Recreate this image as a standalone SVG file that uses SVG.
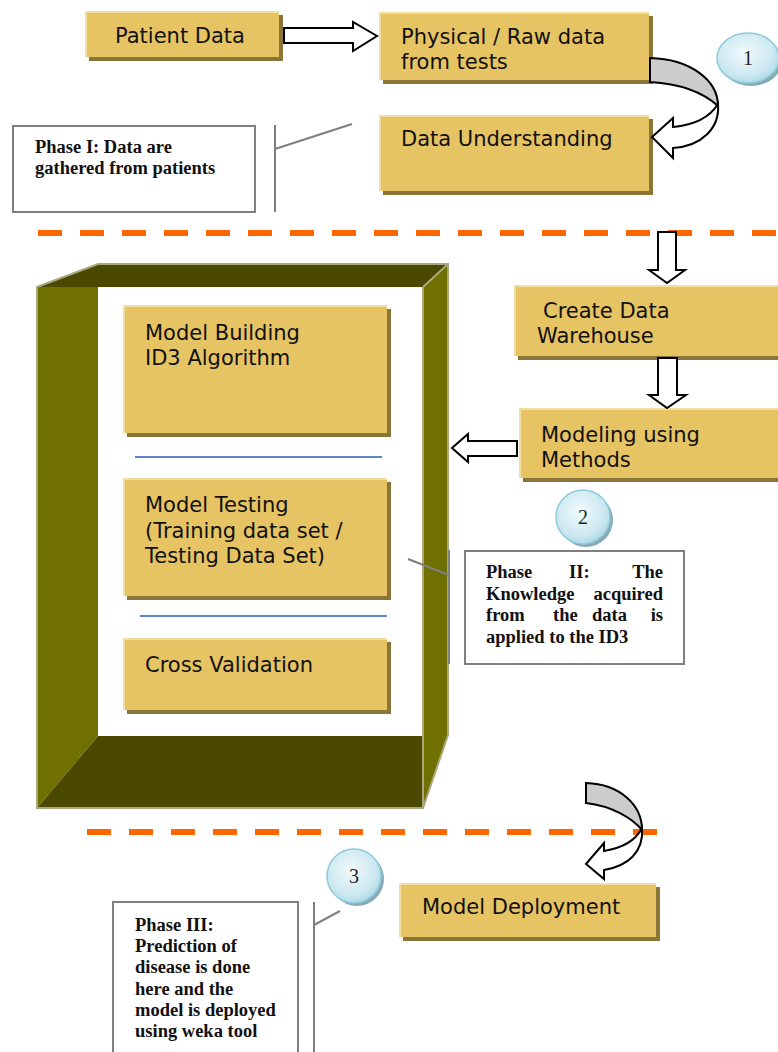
<svg xmlns="http://www.w3.org/2000/svg" width="778" height="1052" viewBox="0 0 778 1052">
<style>
.box{fill:#e6c363}
.shd{fill:#8c7538}
.hl{fill:none;stroke:#f2de9e;stroke-width:2}
.t{font-family:"DejaVu Sans",Verdana,sans-serif;font-size:21px;fill:#111}
.n{font-family:"Liberation Serif","Times New Roman",serif;font-size:18.5px;font-weight:bold;fill:#111}
.num{font-family:"Liberation Serif","Times New Roman",serif;font-size:20px;fill:#222;text-anchor:middle}
.note{fill:#fff;stroke:#7f7f7f;stroke-width:2}
.call{fill:none;stroke:#7f7f7f;stroke-width:2}
.blk{fill:#fff;stroke:#000;stroke-width:2;stroke-linejoin:miter}
.gry{fill:#cccccc;stroke:#000;stroke-width:2}
.dash{stroke:#ff6600;stroke-width:6;stroke-dasharray:24 18;fill:none}
.sep{stroke:#5b87c5;stroke-width:2}
.fr{stroke:#aaa77c;stroke-width:2;fill:none}
.bub{fill:url(#bg);stroke:#8fcbdb;stroke-width:1.5}
.bsh{fill:#86aab8}
</style>
<defs>
<radialGradient id="bg" cx="0.45" cy="0.4" r="0.65">
<stop offset="0" stop-color="#f2fafc"/>
<stop offset="0.7" stop-color="#cbe8f0"/>
<stop offset="1" stop-color="#a6d6e3"/>
</radialGradient>
</defs>

<g id="separators">
<line class="dash" x1="38" y1="233" x2="778" y2="233"/>
<line class="dash" x1="87" y1="832" x2="657" y2="832"/>
</g>

<g id="frame">
<polygon points="37,287 98,264 448,264 425,287" fill="#4b4800"/>
<polygon points="37,287 98,287 98,736 37,808" fill="#707000"/>
<polygon points="98,736 423,736 423,808 37,808" fill="#4b4800"/>
<polygon points="423,287 448,264 448,735 423,808" fill="#707000"/>
<rect x="98" y="287" width="325" height="449" fill="#fff"/>
<path class="fr" d="M37,808 L37,287 L98,264 L448,264 L448,735 L423,808 Z M423,287 L423,808 M423,287 L448,264"/>
<line class="sep" x1="135" y1="457" x2="382" y2="457"/>
<line class="sep" x1="140" y1="616" x2="387" y2="616"/>
</g>

<g id="patient-data">
<rect class="shd" x="89" y="15" width="194" height="46"/>
<rect class="box" x="85" y="11" width="194" height="46"/>
<polyline class="hl" points="86,57 86,12 279,12"/>
<text class="t" x="115" y="43">Patient Data</text>
</g>

<g id="physical-raw-data">
<rect class="shd" x="383" y="16" width="270" height="68"/>
<rect class="box" x="379" y="12" width="270" height="68"/>
<polyline class="hl" points="380,80 380,13 649,13"/>
<text class="t" x="401" y="44">Physical / Raw data</text>
<text class="t" x="401" y="69">from tests</text>
</g>

<g id="data-understanding">
<rect class="shd" x="383" y="119" width="270" height="76"/>
<rect class="box" x="379" y="115" width="270" height="76"/>
<polyline class="hl" points="380,191 380,116 649,116"/>
<text class="t" x="401" y="146">Data Understanding</text>
</g>

<g id="create-data-warehouse">
<rect class="shd" x="518" y="289" width="280" height="71"/>
<rect class="box" x="514" y="285" width="280" height="71"/>
<polyline class="hl" points="515,356 515,286 794,286"/>
<text class="t" x="543" y="318">Create Data</text>
<text class="t" x="537" y="343">Warehouse</text>
</g>

<g id="modeling-using-methods">
<rect class="shd" x="523" y="412" width="280" height="70"/>
<rect class="box" x="519" y="408" width="280" height="70"/>
<polyline class="hl" points="520,478 520,409 799,409"/>
<text class="t" x="541" y="442">Modeling using</text>
<text class="t" x="541" y="467">Methods</text>
</g>

<g id="model-building">
<rect class="shd" x="127" y="309" width="264" height="128"/>
<rect class="box" x="123" y="305" width="264" height="128"/>
<polyline class="hl" points="124,433 124,306 387,306"/>
<text class="t" x="145" y="340">Model Building</text>
<text class="t" x="145" y="365">ID3 Algorithm</text>
</g>

<g id="model-testing">
<rect class="shd" x="127" y="482" width="264" height="118"/>
<rect class="box" x="123" y="478" width="264" height="118"/>
<polyline class="hl" points="124,596 124,479 387,479"/>
<text class="t" x="145" y="512">Model Testing</text>
<text class="t" x="145" y="538">(Training data set /</text>
<text class="t" x="145" y="563">Testing Data Set)</text>
</g>

<g id="cross-validation">
<rect class="shd" x="127" y="642" width="264" height="72"/>
<rect class="box" x="123" y="638" width="264" height="72"/>
<polyline class="hl" points="124,710 124,639 387,639"/>
<text class="t" x="145" y="672">Cross Validation</text>
</g>

<g id="model-deployment">
<rect class="shd" x="403" y="887" width="257" height="54"/>
<rect class="box" x="399" y="883" width="257" height="54"/>
<polyline class="hl" points="400,937 400,884 656,884"/>
<text class="t" x="422" y="914">Model Deployment</text>
</g>

<g id="phase-1-note">
<rect class="note" x="13" y="126" width="242" height="86"/>
<text class="n" x="35" y="153">Phase I: Data are</text>
<text class="n" x="35" y="174">gathered from patients</text>
</g>

<g id="phase-2-note">
<rect class="note" x="465" y="551" width="219" height="113"/>
<text class="n" x="486" y="578">Phase</text>
<text class="n" x="569" y="578">II:</text>
<text class="n" x="663" y="578" text-anchor="end">The</text>
<text class="n" x="486" y="600">Knowledge</text>
<text class="n" x="663" y="600" text-anchor="end">acquired</text>
<text class="n" x="486" y="621">from</text>
<text class="n" x="553" y="621">the</text>
<text class="n" x="592" y="621">data</text>
<text class="n" x="663" y="621" text-anchor="end">is</text>
<text class="n" x="486" y="643">applied to the ID3</text>
</g>

<g id="phase-3-note">
<rect class="note" x="113" y="902" width="185" height="160"/>
<text class="n" x="135" y="931">Phase III:</text>
<text class="n" x="135" y="952">Prediction of</text>
<text class="n" x="135" y="973">disease is done</text>
<text class="n" x="135" y="995">here and the</text>
<text class="n" x="135" y="1016">model is deployed</text>
<text class="n" x="135" y="1037">using weka tool</text>
</g>

<g id="badge-1">
<ellipse class="bsh" cx="751" cy="61" rx="31" ry="25"/>
<ellipse class="bub" cx="748" cy="58" rx="31" ry="25"/>
<text class="num" x="748" y="65">1</text>
</g>

<g id="badge-2">
<circle class="bsh" cx="586" cy="520" r="27"/>
<circle class="bub" cx="583" cy="517" r="27"/>
<text class="num" x="583" y="524">2</text>
</g>

<g id="badge-3">
<circle class="bsh" cx="357" cy="879" r="27"/>
<circle class="bub" cx="354" cy="876" r="27"/>
<text class="num" x="354" y="883">3</text>
</g>

<g id="connectors">
<polygon class="blk" points="284,28 353,28 353,22 377,36 353,51 353,43 284,43"/>
<path class="gry" d="M650,58 C690,59 718,80 718,106 C706,95 684,84 650,82 Z"/>
<path class="blk" d="M718,104 C720,128 702,146 673,148 L673,158 L652,137 L673,118 L673,127 C694,125 710,117 718,104 Z"/>
<polygon class="blk" points="658,232 676,232 676,270 685,270 667,283 649,270 658,270"/>
<polygon class="blk" points="658,358 677,358 677,395 686,395 667,408 649,395 658,395"/>
<polygon class="blk" points="517,441 468,441 468,434 452,448 468,462 468,456 517,456"/>
<path class="gry" d="M586,783 C620,784 642,805 642,830 C632,818 612,806 586,803 Z"/>
<path class="blk" d="M642,828 C644,852 628,866 604,870 L604,879 L586,864 L604,843 L604,851 C622,848 636,840 642,828 Z"/>
<path class="call" d="M275,125 L275,212 M275,149 L352,124"/>
<path class="call" d="M449,550 L449,664 M408,559 L449,575"/>
<path class="call" d="M314,902 L314,1052 M314,925 L340,911"/>
</g>
</svg>
